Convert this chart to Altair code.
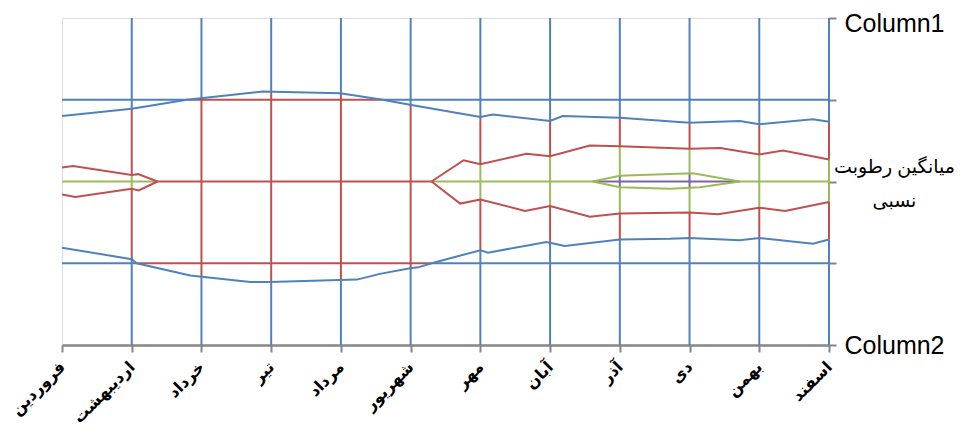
import json
import numpy as np
import pandas as pd
import altair as alt

# Categories (x axis) and series rows (right axis)
months = ["فروردین", "اردیبهشت", "خرداد", "تیر", "مرداد", "شهریور",
          "مهر", "آبان", "آذر", "دی", "بهمن", "اسفند"]
row_values = [0, 1, 2, 3, 4]
row_names = {0: "Column2", 2: ["میانگین رطوبت", "نسبی"], 4: "Column1"}

# Contour bands (lowest -> highest)
band_colors = ["#4F81BD", "#C0504D", "#9BBB59", "#8064A2"]

# Contour lines: x = month index, y = row position (0..4)
blue_top_x = [0, 1, 1.79, 2.88, 3.99, 4.13, 4.60, 4.99, 6.0, 6.18, 7.0, 7.18, 8.0, 9.0, 9.72, 10.0, 10.77, 11]
blue_top_y = [2.80, 2.89, 3.0, 3.10, 3.08, 3.06, 3.0, 2.94, 2.79, 2.82, 2.74, 2.80, 2.78, 2.72, 2.74, 2.70, 2.76, 2.73]
blue_bot_x = [0, 1, 1.07, 1.84, 2.70, 2.98, 4.23, 4.56, 4.99, 5.11, 5.30, 6.0, 6.11, 6.95, 7.21, 8.0, 8.72, 9.0, 9.72, 10.0, 10.77, 11]
blue_bot_y = [1.19, 1.05, 1.0, 0.85, 0.77, 0.77, 0.80, 0.87, 0.94, 0.95, 1.0, 1.16, 1.13, 1.26, 1.21, 1.29, 1.30, 1.31, 1.28, 1.31, 1.24, 1.29]
red_top_l_x = [0, 0.16, 1.0, 1.09, 1.37]
red_top_l_y = [2.17, 2.19, 2.08, 2.09, 2.0]
red_bot_l_x = [0, 0.19, 1.0, 1.10, 1.37]
red_bot_l_y = [1.84, 1.81, 1.91, 1.89, 2.0]
red_top_r_x = [5.30, 5.76, 6.0, 6.66, 7.0, 7.57, 8.0, 9.0, 9.44, 10.0, 10.34, 11]
red_top_r_y = [2.0, 2.26, 2.21, 2.34, 2.31, 2.44, 2.43, 2.40, 2.41, 2.33, 2.38, 2.27]
red_bot_r_x = [5.30, 5.71, 6.0, 6.64, 7.0, 7.57, 8.0, 9.0, 9.41, 10.0, 10.37, 11]
red_bot_r_y = [2.0, 1.73, 1.78, 1.64, 1.70, 1.57, 1.61, 1.62, 1.60, 1.68, 1.64, 1.75]
green_top_x = [7.61, 8.0, 8.3, 9.05, 9.72]
green_top_y = [2.0, 2.07, 2.08, 2.10, 2.0]
green_bot_x = [7.61, 8.0, 8.72, 9.15, 9.72]
green_bot_y = [2.0, 1.93, 1.91, 1.93, 2.0]

contours = [
    ("blue_top", 0, "top", blue_top_x, blue_top_y),
    ("blue_bot", 0, "bot", blue_bot_x, blue_bot_y),
    ("red_top_l", 1, "top", red_top_l_x, red_top_l_y),
    ("red_bot_l", 1, "bot", red_bot_l_x, red_bot_l_y),
    ("red_top_r", 1, "top", red_top_r_x, red_top_r_y),
    ("red_bot_r", 1, "bot", red_bot_r_x, red_bot_r_y),
    ("green_top", 2, "top", green_top_x, green_top_y),
    ("green_bot", 2, "bot", green_bot_x, green_bot_y),
]


def band(x, y):
    n = 0
    for _, _, side, xs, ys in contours:
        if xs[0] <= x <= xs[-1]:
            v = float(np.interp(x, xs, ys))
            if side == "top" and y >= 2 and v > y:
                n += 1
            if side == "bot" and y < 2 and v < y:
                n += 1
    return int(n)


def runs(points, fixed, horizontal):
    segs = []
    start = float(points[0])
    prev = float(points[0])
    cur = band(start, fixed) if horizontal else band(fixed, start)
    for p in points[1:]:
        p = float(p)
        b = band(p, fixed) if horizontal else band(fixed, p)
        if b != cur:
            mid = (prev + p) / 2
            segs.append((start, mid, cur))
            start, cur = mid, b
        prev = p
    segs.append((start, float(points[-1]), cur))
    return segs


mesh = []
xs_fine = np.linspace(0, 11, 2201)
for lvl in [1, 2, 3]:
    for a, b, c in runs(xs_fine, lvl, True):
        mesh.append({"x": a, "x2": b, "y": float(lvl), "y2": float(lvl), "band": c})
ys_fine = np.linspace(4, 0, 1601)
for m in range(1, 12):
    for a, b, c in runs(ys_fine, m, False):
        mesh.append({"x": float(m), "x2": float(m), "y": a, "y2": b, "band": c})
mesh_df = pd.DataFrame(mesh)

lines = []
for name, bnd, side, xs, ys in contours:
    for k, (x, y) in enumerate(zip(xs, ys)):
        lines.append({"id": name, "k": k, "x": x, "y": y, "band": bnd})
lines_df = pd.DataFrame(lines)

color = alt.Color("band:O", scale=alt.Scale(domain=[0, 1, 2, 3], range=band_colors), legend=None)

month_js = json.dumps(months, ensure_ascii=False)
x_axis = alt.Axis(
    values=list(range(12)), labelExpr=f"{month_js}[datum.value]", title=None,
    labelAngle=-45, labelAlign="right", labelBaseline="middle", labelPadding=12,
    labelFont="DejaVu Sans", labelFontWeight="bold", labelFontSize=16, labelColor="#000000",
    domainColor="#868686", domainWidth=2.5, tickColor="#868686", tickWidth=2, tickSize=7,
    grid=False, labelOverlap=False, labelFlush=False,
)
right_js = ("datum.value == 4 ? 'Column1' : datum.value == 0 ? 'Column2' : "
            "datum.value == 2 ? ['" + row_names[2][0] + "', '" + row_names[2][1] + "'] : ''")
y_axis = alt.Axis(
    orient="right", values=row_values, labelExpr=right_js, title=None,
    labelAlign="center", labelBaseline="middle", labelPadding=58,
    labelFont="Liberation Sans, DejaVu Sans",
    labelFontSize={"condition": {"test": "datum.value == 2", "value": 19}, "value": 25},
    labelOffset={"condition": [{"test": "datum.value == 2", "value": -15},
                               {"test": "datum.value == 4", "value": 5}], "value": 0},
    labelColor="#000000", labelLineHeight=34,
    domain=False, tickColor="#868686", tickWidth=2, tickSize=7, grid=False,
    labelOverlap=False, labelFlush=False,
)

xs = alt.Scale(domain=[0, 11], nice=False, zero=False)
ysc = alt.Scale(domain=[0, 4], nice=False, zero=False)

mesh_layer = alt.Chart(mesh_df).mark_rule(strokeWidth=2).encode(
    x=alt.X("x:Q", scale=xs, axis=x_axis),
    x2="x2:Q",
    y=alt.Y("y:Q", scale=ysc, axis=y_axis),
    y2="y2:Q",
    color=color,
)
line_layer = alt.Chart(lines_df).mark_line(strokeWidth=2).encode(
    x=alt.X("x:Q", scale=xs),
    y=alt.Y("y:Q", scale=ysc),
    detail="id:N",
    order="k:Q",
    color=color,
)

chart = alt.layer(mesh_layer, line_layer).properties(
    width=767, height=327,
    autosize=alt.AutoSizeParams(type="none"),
    padding={"left": 54, "top": 10, "right": 141, "bottom": 85},
).configure_view(stroke="#868686", strokeWidth=2.5).configure(background="white")

chart.save("out.html", embed_options={"renderer": "svg", "actions": False})
